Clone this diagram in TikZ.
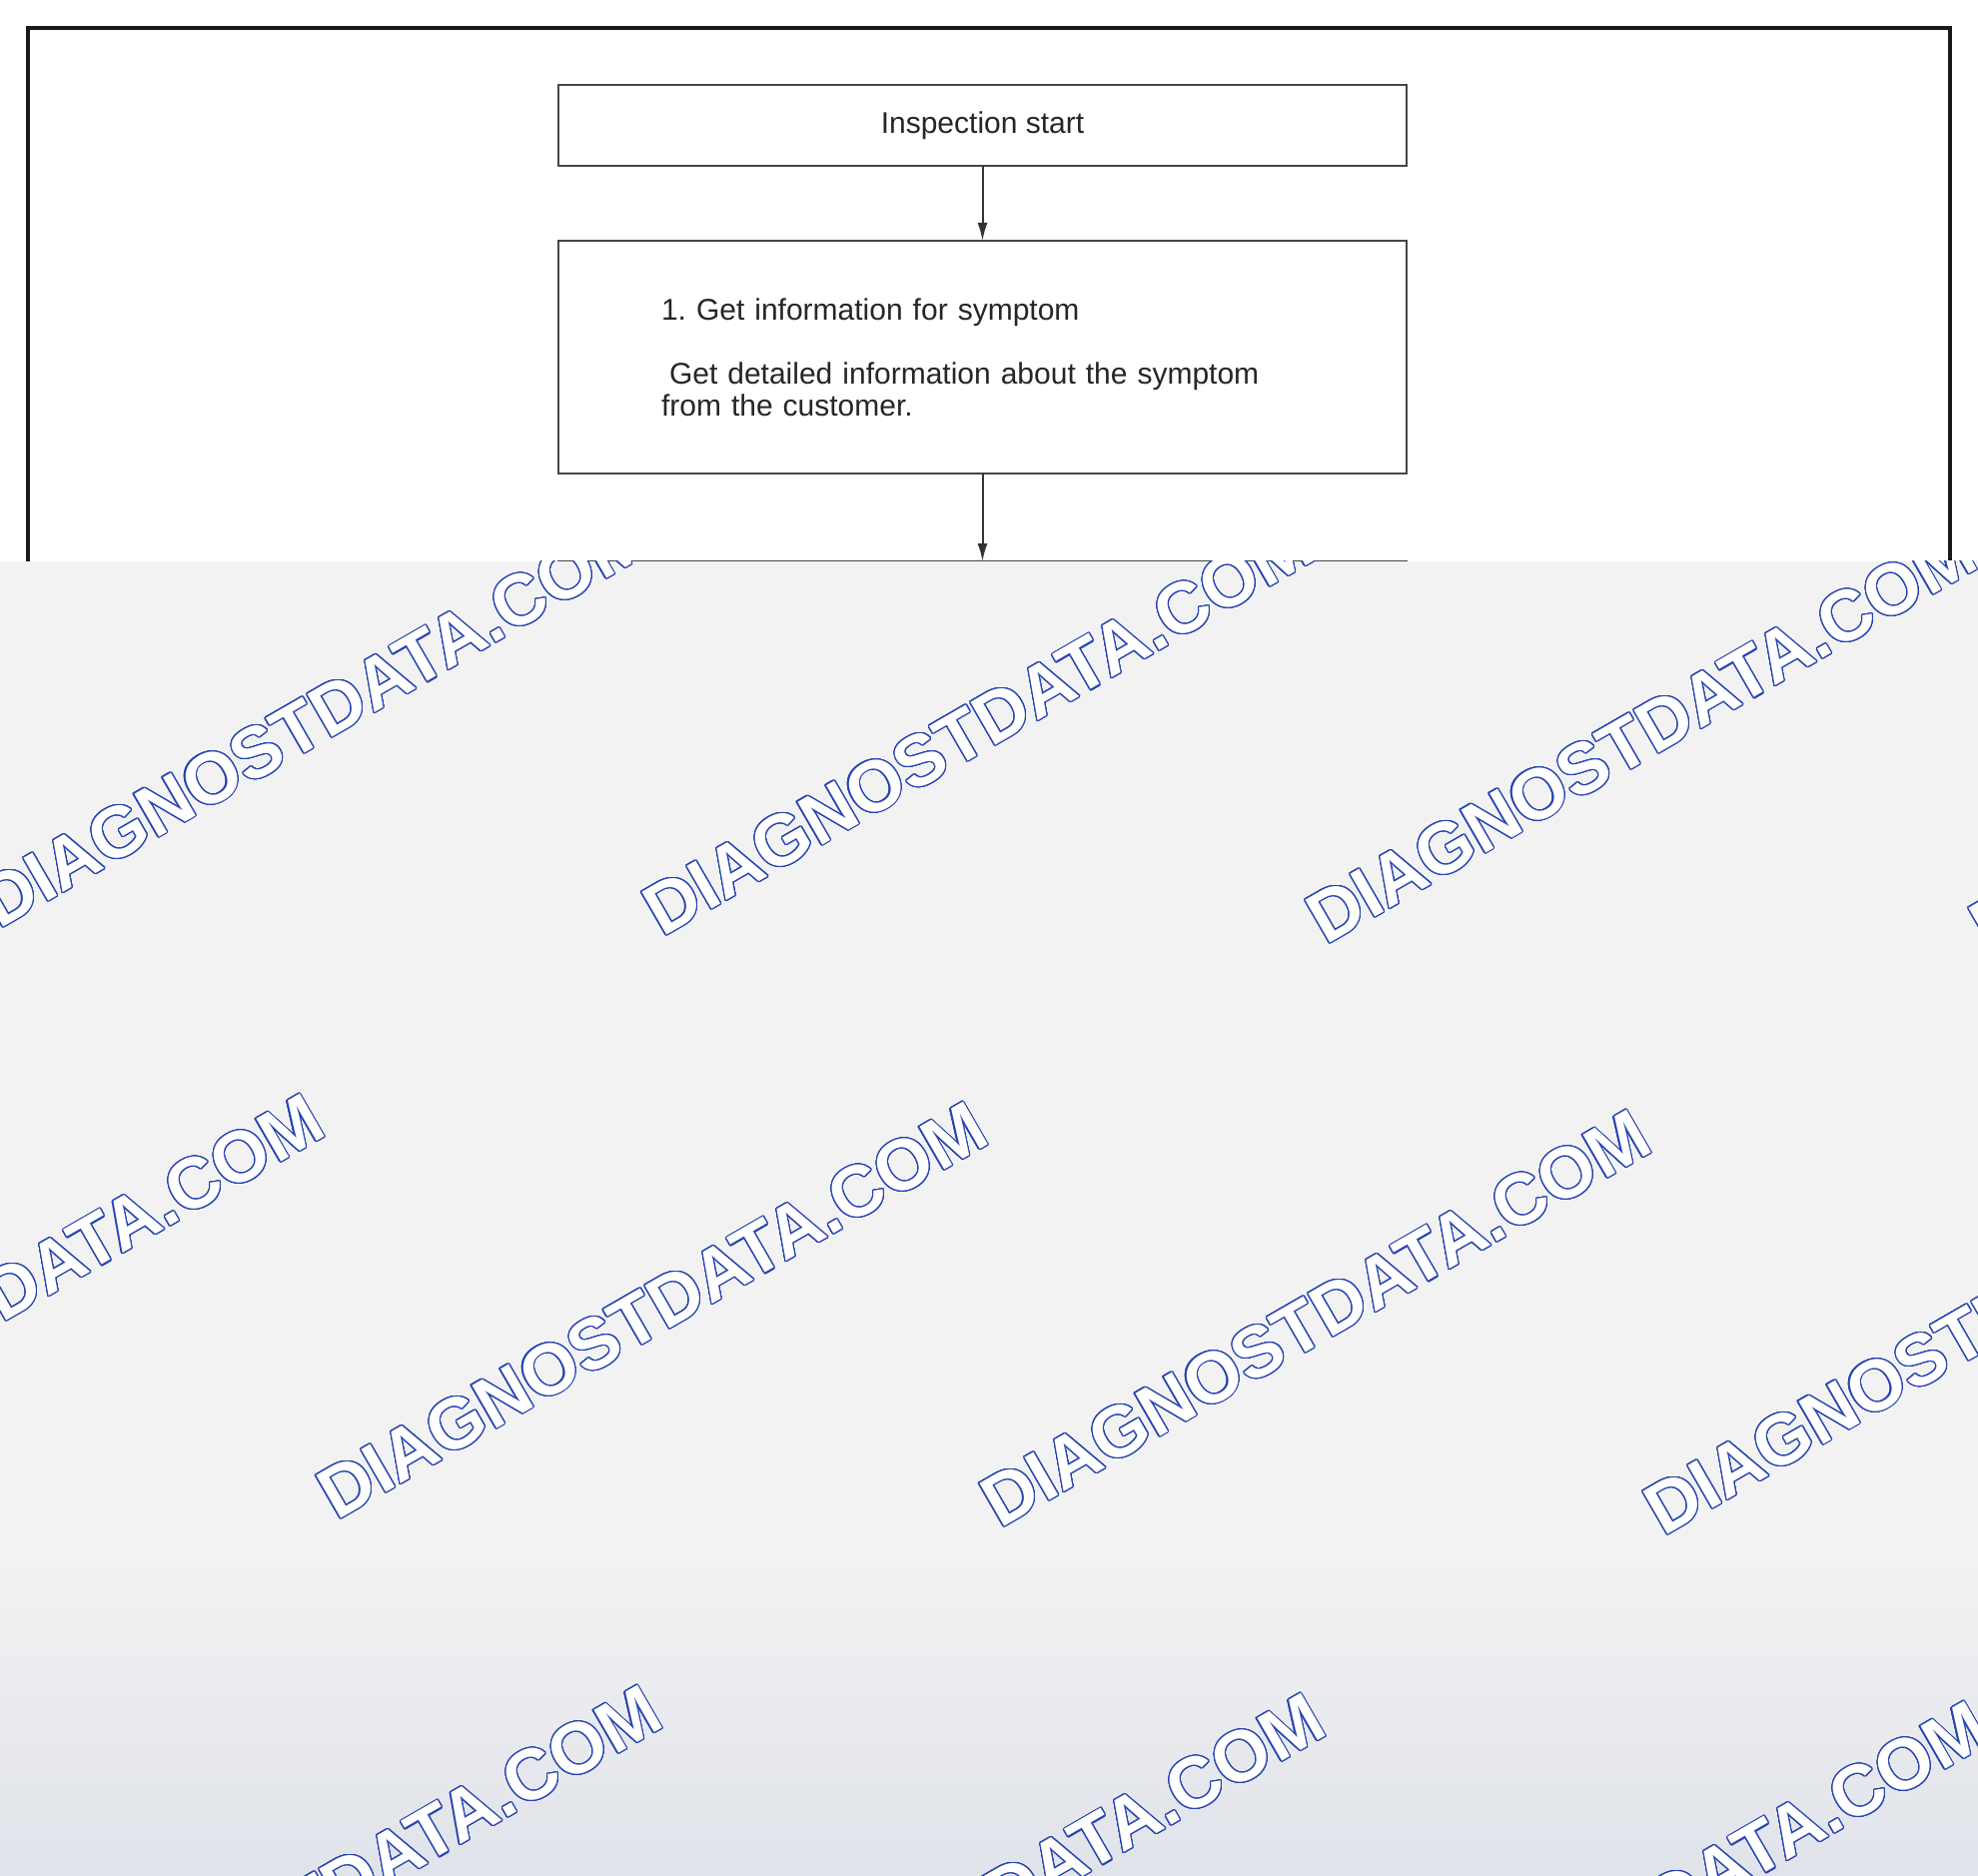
\documentclass[tikz,border=0pt]{standalone}
\usepackage{fontspec}
\setmainfont{Liberation Sans}
\usepackage{contour}
\contourlength{0.6pt}
\contournumber{24}
\usetikzlibrary{arrows.meta,positioning}

\definecolor{wmblue}{RGB}{38,68,178}
\definecolor{boxline}{RGB}{70,70,70}
\definecolor{sheet}{RGB}{242,242,242}
\definecolor{sheetdark}{RGB}{224,227,234}

\begin{document}
\begin{tikzpicture}[x=0.5pt, y=-0.5pt
    , box/.style = {rectangle,draw=boxline,line width=1.2pt,minimum width=424.5pt,outer sep=0mm,
        font=\fontsize{15}{16}\selectfont,text=black!85}
    , flow/.style = {draw=black!80,line width=1pt,-{Latex[length=9pt,width=5pt]}}
    , wmtext/.style = {rotate=30,text=white,inner sep=0pt,font=\fontsize{36}{40}\bfseries\selectfont}
]
\useasboundingbox (0,0) rectangle (1980,1878);
\fill[white] (0,0) rectangle (1980,1878);
% outer frame
\draw[line width=2.2pt,black!90] (28,1900) -- (28,28) -- (1952,28) -- (1952,1900);

\node[box,minimum height=40.5pt] (start) at (983.5,125.5) {Inspection start};
\node[box,minimum height=116.5pt,text width=321.5pt,inner xsep=51.5pt,align=left] (info) at (983.5,357.5)
    {1.\ Get information for symptom\\[16pt]\hspace*{4pt}Get detailed information about the symptom\\from the customer.};
\node[box,minimum height=116.5pt,anchor=north] (next) at (983.5,562) {};
\draw[flow] (start) -- (info);
\draw[flow] (info) -- (next);

% watermark sheet
\fill[sheet] (0,561.5) rectangle (1980,1878);
\shade[top color=sheet,bottom color=sheetdark] (0,1560) rectangle (1980,1878);
\begin{scope}
\clip (0,561.5) rectangle (1980,1878);
\foreach \i in {-1,...,2}
    \foreach \j in {0,1,2}
        \node[wmtext] (wm\i\j) at ({979+664*\i-326*\j},{728+8*\i+584*\j}) {\contour{wmblue}{DIAGNOSTDATA.COM}};
\end{scope}
\end{tikzpicture}
\end{document}
